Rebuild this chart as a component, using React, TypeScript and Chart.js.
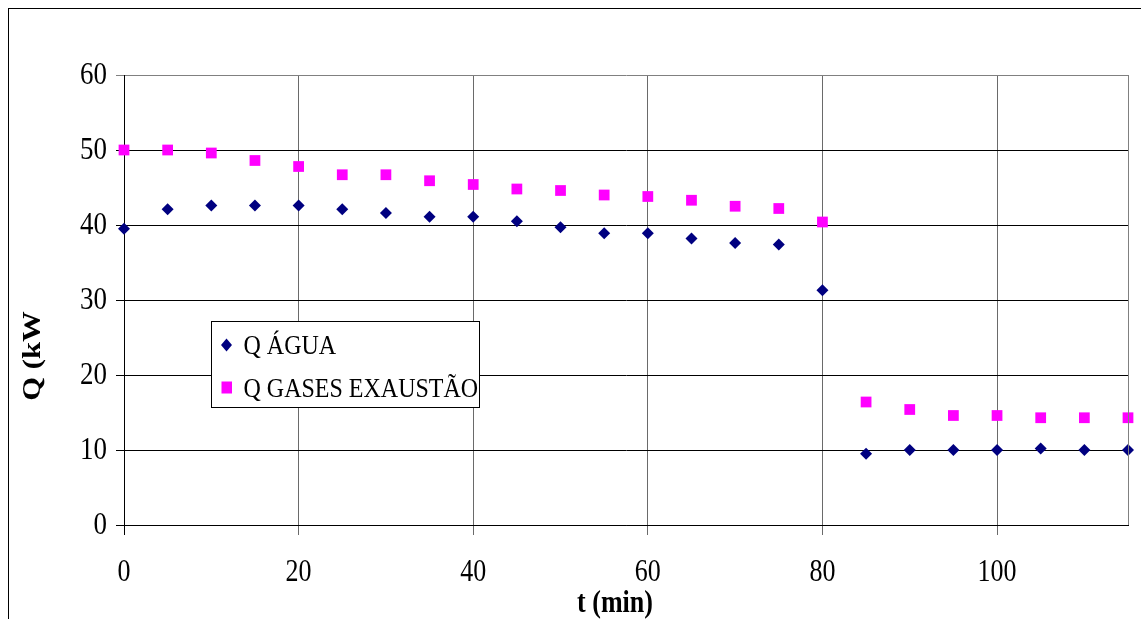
import React, { useEffect, useRef } from 'react';
import { Chart, registerables } from 'chart.js';

Chart.register(...registerables);

// Time axis (minutes)
const TIME_MIN = [0, 5, 10, 15, 20, 25, 30, 35, 40, 45, 50, 55, 60, 65, 70, 75, 80, 85, 90, 95, 100, 105, 110, 115];

// Heat flow to water (kW)
const Q_AGUA = [39.5, 42.1, 42.6, 42.6, 42.6, 42.1, 41.6, 41.1, 41.1, 40.5, 39.7, 38.9, 38.9, 38.2, 37.6, 37.4, 31.3, 9.5, 10.0, 10.0, 10.0, 10.2, 10.0, 10.0];

// Heat in exhaust gases (kW)
const Q_GASES = [50.0, 50.0, 49.6, 48.6, 47.8, 46.7, 46.7, 45.9, 45.4, 44.8, 44.6, 44.0, 43.8, 43.3, 42.5, 42.2, 40.4, 16.4, 15.4, 14.6, 14.6, 14.3, 14.3, 14.3];

const SERIES_NAMES = ['Q ÁGUA', 'Q GASES EXAUSTÃO'];
const SERIES_COLORS = ['#000080', '#FF00FF'];

const X_TICKS = [0, 20, 40, 60, 80, 100];
const Y_TICKS = [0, 10, 20, 30, 40, 50, 60];
const X_TITLE = 't (min)';
const Y_TITLE = 'Q (kW';

const SERIF = '"Liberation Serif", "Times New Roman", serif';
const SY = 1.18; // tall, narrow lettering

function tallText(
  ctx: CanvasRenderingContext2D,
  text: string,
  x: number,
  y: number,
  font: string,
  align: CanvasTextAlign,
  rotate = false
) {
  ctx.save();
  ctx.translate(x, y);
  ctx.scale(1, SY);
  if (rotate) ctx.rotate(-Math.PI / 2);
  ctx.font = font;
  ctx.fillStyle = '#000';
  ctx.textAlign = align;
  ctx.textBaseline = 'middle';
  ctx.fillText(text, 0, 0);
  ctx.restore();
}

const textPlugin = {
  id: 'textPlugin',
  afterDraw(chart: any) {
    const ctx: CanvasRenderingContext2D = chart.ctx;
    const ca = chart.chartArea;
    const xs = chart.scales.x;
    const ys = chart.scales.y;

    // top and right frame of the plot
    ctx.save();
    ctx.strokeStyle = '#808080';
    ctx.lineWidth = 1;
    ctx.beginPath();
    ctx.moveTo(Math.round(ca.right) + 0.5, Math.round(ca.top));
    ctx.lineTo(Math.round(ca.right) + 0.5, Math.round(ca.bottom));
    ctx.stroke();
    ctx.restore();

    // tick labels
    const tickFont = `27px ${SERIF}`;
    Y_TICKS.forEach((v) => {
      tallText(ctx, String(v), ca.left - 17, ys.getPixelForValue(v) + 1, tickFont, 'right');
    });
    X_TICKS.forEach((v) => {
      tallText(ctx, String(v), xs.getPixelForValue(v), ca.bottom + 48, `26px ${SERIF}`, 'center');
    });

    // axis titles
    const titleFont = `bold 26px ${SERIF}`;
    tallText(ctx, X_TITLE, ca.left + 491, ca.bottom + 79, titleFont, 'center');
    tallText(ctx, Y_TITLE, ca.left - 90.5, ca.top + 281, titleFont, 'center', true);

    // legend
    const lx = Math.round(ca.left + 87) + 0.5;
    const ly = Math.round(ca.top + 246) + 0.5;
    const lw = 268;
    const lh = 86;
    ctx.save();
    ctx.fillStyle = '#fff';
    ctx.fillRect(lx, ly, lw, lh);
    ctx.strokeStyle = '#000';
    ctx.lineWidth = 1;
    ctx.strokeRect(lx, ly, lw, lh);

    const mx = lx + 15;
    // diamond
    ctx.fillStyle = SERIES_COLORS[0];
    ctx.beginPath();
    const dy = ly + 23.5;
    ctx.moveTo(mx, dy - 6.5);
    ctx.lineTo(mx + 5.5, dy);
    ctx.lineTo(mx, dy + 6.5);
    ctx.lineTo(mx - 5.5, dy);
    ctx.closePath();
    ctx.fill();
    // square
    ctx.fillStyle = SERIES_COLORS[1];
    const sy = ly + 66;
    ctx.fillRect(mx - 5, sy - 6, 10.5, 12);
    ctx.restore();

    const legendFont = `24px ${SERIF}`;
    tallText(ctx, SERIES_NAMES[0], lx + 32, ly + 25, legendFont, 'left');
    tallText(ctx, SERIES_NAMES[1], lx + 32, ly + 68, legendFont, 'left');
  },
};

export default function App() {
  const canvasRef = useRef<HTMLCanvasElement | null>(null);

  useEffect(() => {
    const canvas = canvasRef.current;
    if (!canvas) return;

    const toPoints = (ys: number[]) => TIME_MIN.map((t, i) => ({ x: t, y: ys[i] }));

    const chart = new Chart(canvas, {
      type: 'scatter',
      data: {
        datasets: [
          {
            label: SERIES_NAMES[0],
            data: toPoints(Q_AGUA),
            pointStyle: 'rectRot',
            pointRadius: 6,
            pointHoverRadius: 6,
            pointBorderWidth: 0,
            backgroundColor: SERIES_COLORS[0],
            borderColor: SERIES_COLORS[0],
            clip: false,
          },
          {
            label: SERIES_NAMES[1],
            data: toPoints(Q_GASES),
            pointStyle: 'rect',
            pointRadius: 7.6,
            pointHoverRadius: 7.6,
            pointBorderWidth: 0,
            backgroundColor: SERIES_COLORS[1],
            borderColor: SERIES_COLORS[1],
            clip: false,
          },
        ],
      },
      options: {
        responsive: false,
        animation: false,
        events: [],
        layout: { padding: { top: 66, right: 21, left: 0, bottom: 0 } },
        plugins: {
          legend: { display: false },
          tooltip: { enabled: false },
          title: { display: false },
        },
        scales: {
          x: {
            type: 'linear',
            min: 0,
            max: 115,
            afterBuildTicks: (scale: any) => {
              scale.ticks = X_TICKS.map((v) => ({ value: v }));
            },
            afterFit: (scale: any) => {
              scale.height = 104;
            },
            ticks: { display: false },
            grid: {
              color: (c: any) => (c.tick && c.tick.value === 0 ? '#000' : '#6a6a6a'),
              lineWidth: 1,
              drawTicks: true,
              tickLength: 10,
            },
            border: { display: true, color: '#000', width: 1 },
          },
          y: {
            type: 'linear',
            min: 0,
            max: 60,
            afterBuildTicks: (scale: any) => {
              scale.ticks = Y_TICKS.map((v) => ({ value: v }));
            },
            afterFit: (scale: any) => {
              scale.width = 115;
            },
            ticks: { display: false },
            grid: {
              color: (c: any) => (c.tick && c.tick.value === 60 ? '#808080' : '#000'),
              lineWidth: 1,
              drawTicks: true,
              tickLength: 8,
            },
            border: { display: true, color: '#000', width: 1 },
          },
        },
      },
      plugins: [textPlugin],
    });

    return () => chart.destroy();
  }, []);

  return (
    <div
      style={{
        position: 'fixed',
        left: 0,
        top: 0,
        width: 1141,
        height: 619,
        overflow: 'hidden',
        background: '#fff',
      }}
    >
      <div
        style={{
          position: 'absolute',
          left: 8,
          top: 8,
          width: 1140,
          height: 620,
          border: '1px solid #000',
        }}
      >
        <canvas ref={canvasRef} width={1140} height={620} style={{ display: 'block' }} />
      </div>
    </div>
  );
}
